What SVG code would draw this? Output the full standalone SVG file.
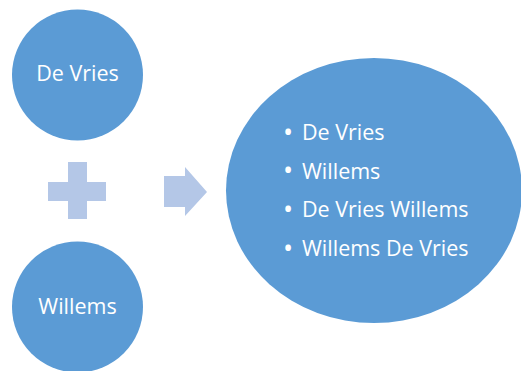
<svg xmlns="http://www.w3.org/2000/svg" width="521" height="371" viewBox="0 0 521 371">
<style>
.node{fill:#5B9BD5}
.sym{fill:#B4C7E7}
text{font-family:"Open Sans","Liberation Sans",Arial,sans-serif;fill:#FFFFFF;font-size:21.5px}
.bul{font-size:27px}
</style>
<rect width="521" height="371" fill="#FFFFFF"/>
<g id="node-devries">
<circle class="node" cx="77.5" cy="75" r="65.5"/>
<text x="77.5" y="80.5" text-anchor="middle">De Vries</text>
</g>
<g id="node-willems">
<circle class="node" cx="77.5" cy="307" r="65.5"/>
<text x="77.5" y="313.5" text-anchor="middle">Willems</text>
</g>
<g id="connectors">
<path id="plus" class="sym" d="M68,162H87V182H106V201H87V219H68V201H48V182H68Z"/>
<path id="arrow" class="sym" d="M164,176H185V167L207,192L185,216V207H164Z"/>
</g>
<g id="node-result">
<ellipse class="node" cx="374" cy="190.5" rx="148" ry="132.5"/>
<text class="bul" x="283" y="141.5">•</text><text x="302" y="140">De Vries</text>
<text class="bul" x="283" y="180.2">•</text><text x="302" y="178.7">Willems</text>
<text class="bul" x="283" y="218.8">•</text><text x="302" y="217.3">De Vries Willems</text>
<text class="bul" x="283" y="257.5">•</text><text x="302" y="256">Willems De Vries</text>
</g>
</svg>
